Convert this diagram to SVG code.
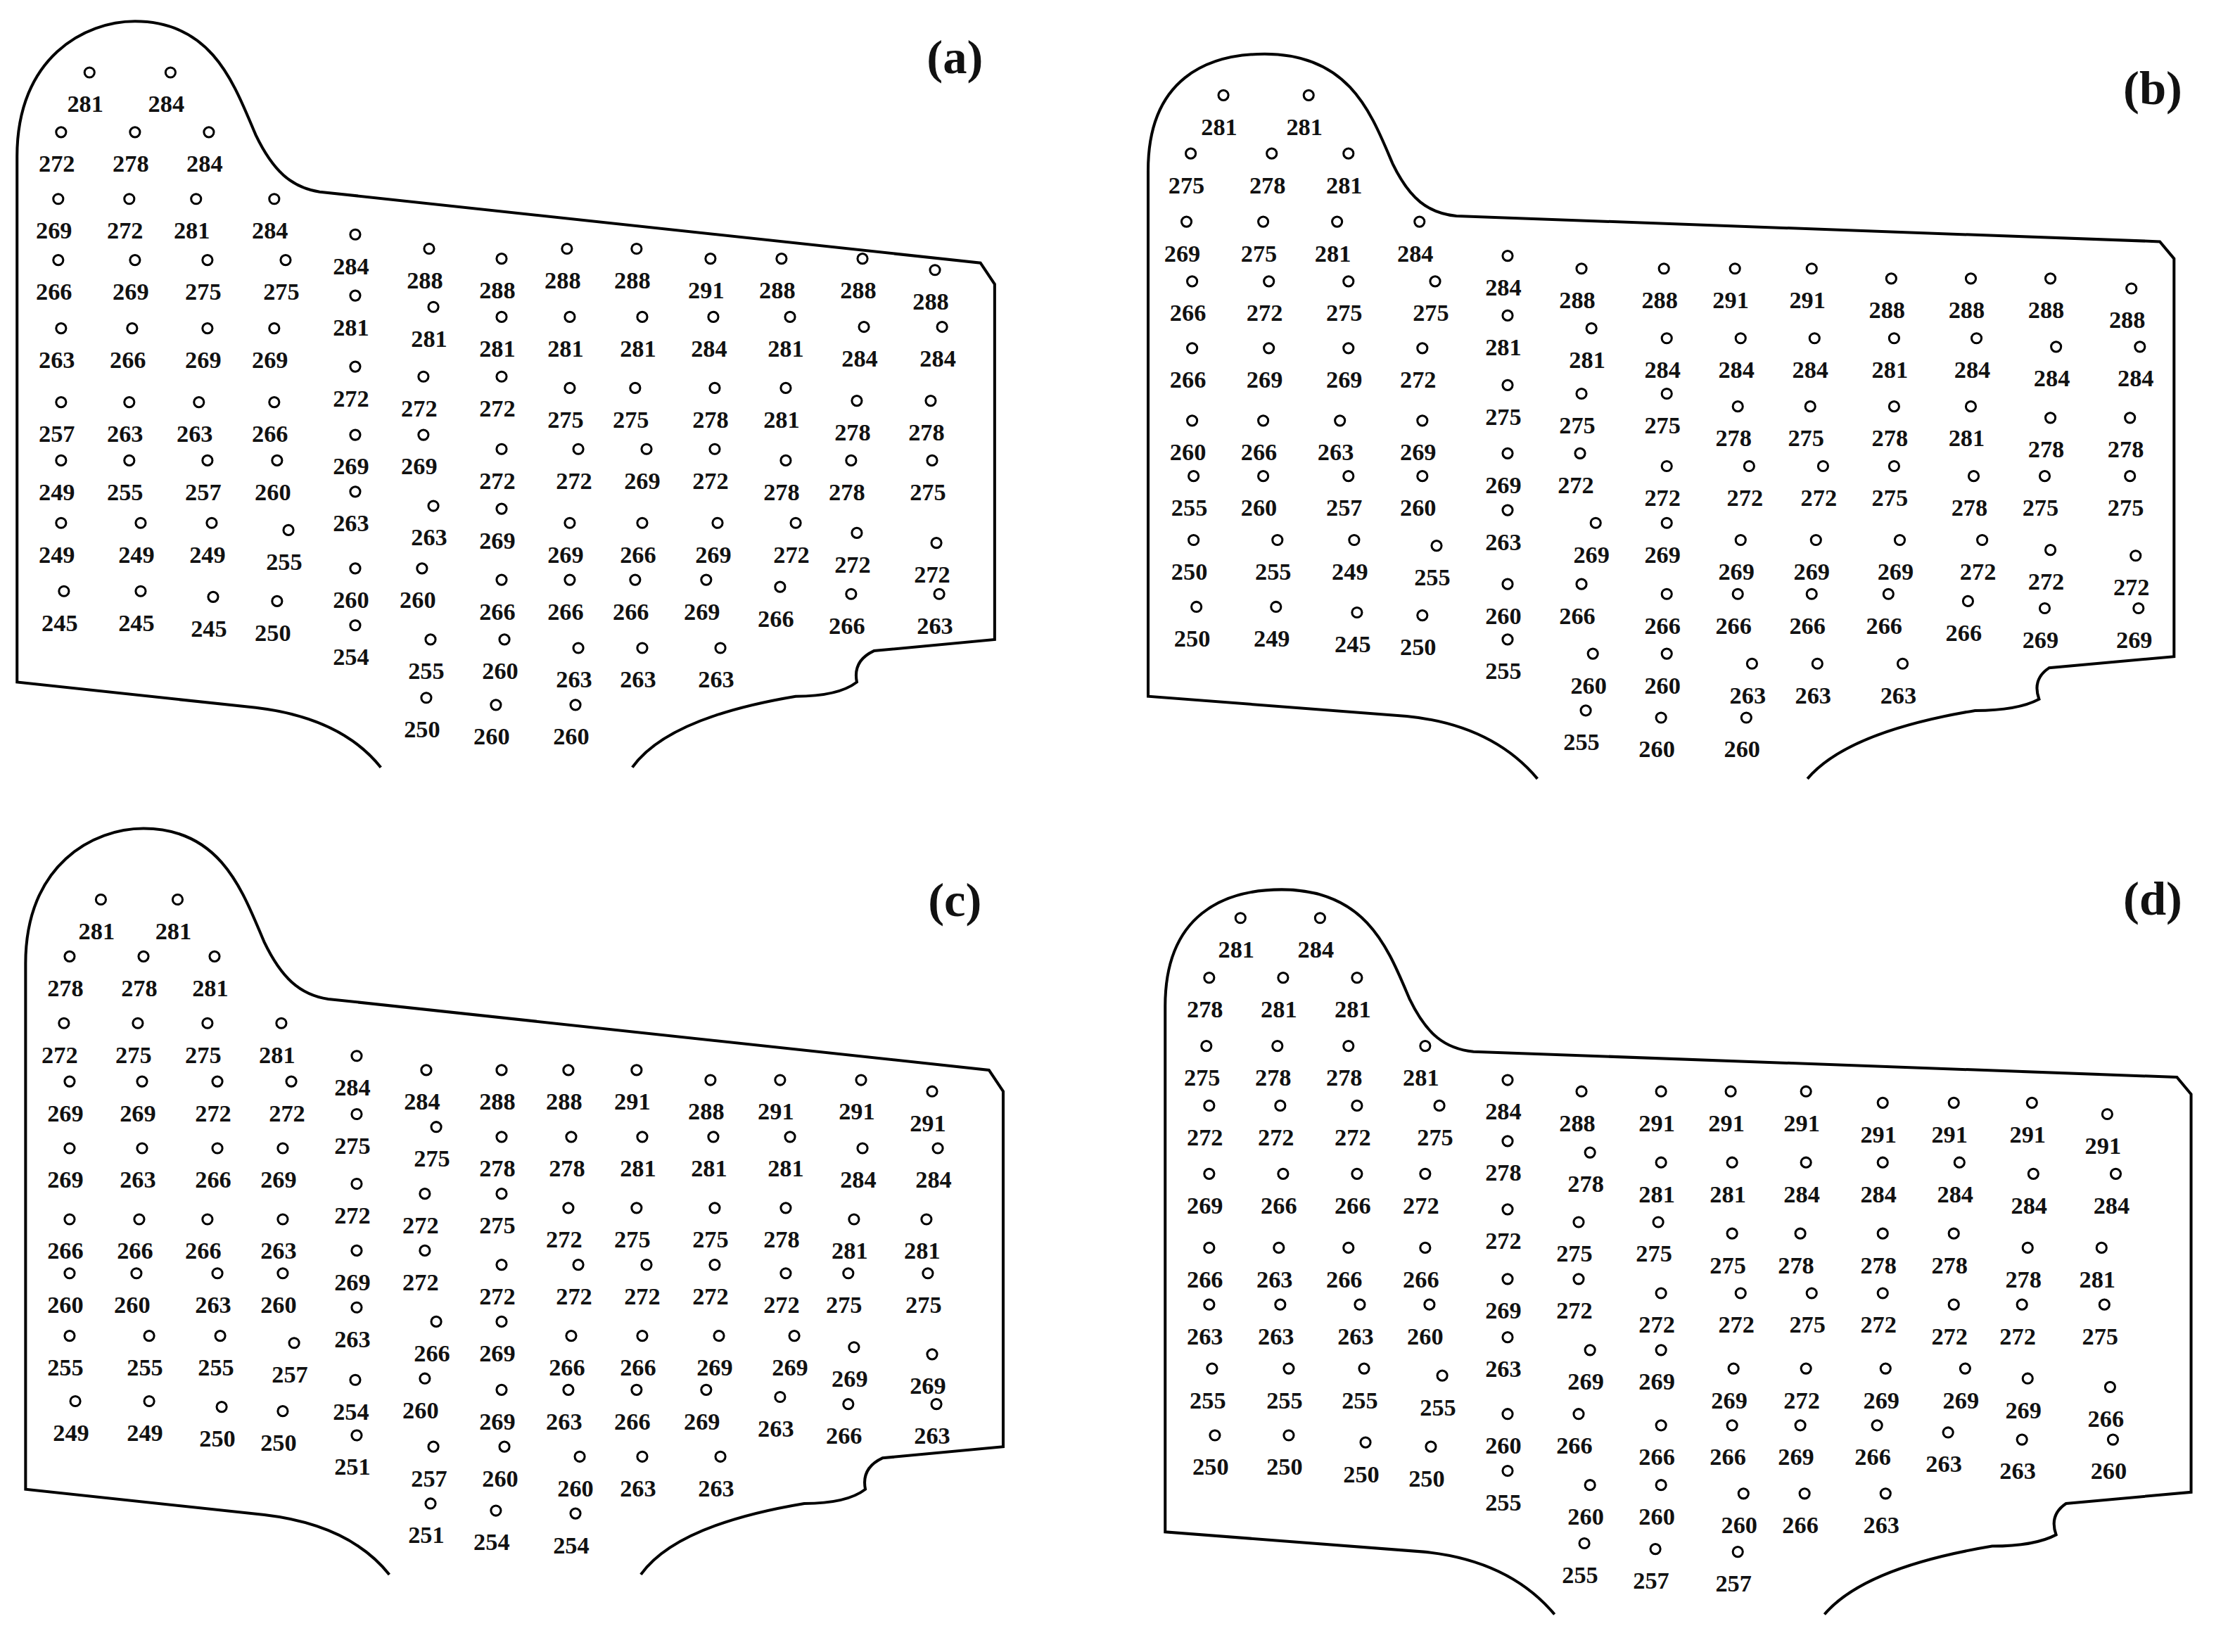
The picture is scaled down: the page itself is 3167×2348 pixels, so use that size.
<svg xmlns="http://www.w3.org/2000/svg" width="3167" height="2348" viewBox="0 0 3167 2348">
<style>
.o{fill:none;stroke:#000;stroke-width:2}
circle{fill:none;stroke:#000;stroke-width:1.5}
text{font-family:"Liberation Serif","DejaVu Serif",serif;font-size:17px;font-weight:bold;text-anchor:middle;dominant-baseline:central;fill:#111}
.lab{font-size:34px}
</style>
<defs><circle id="c" cx="3" cy="-22" r="3.5"/></defs>
<rect width="3167" height="2348" fill="#fff"/>
<g transform="scale(2.0198)">
<g id="outlines">
<path id="oa" class="o" d="M268,540 Q240,505 180,498 L12,480 L12,110 C12,40 60,15 95,15 C150,15 165,60 180,95 C192,120 205,132 225,135 L690,185 L700,200 L700,450 L615,458 Q600,465 603,480 Q590,490 560,490 Q470,505 445,540"/>
<path class="o" d="M268,540 Q240,505 180,498 L12,480 L12,110 C12,40 60,15 95,15 C150,15 165,60 180,95 C192,120 205,132 225,135 L690,185 L700,200 L700,450 L615,458 Q600,465 603,480 Q590,490 560,490 Q470,505 445,540" transform="translate(6,568)"/>
<path id="ob" class="o" d="M1082,548 Q1050,510 990,504 L808,490 L808,120 C808,55 850,38 890,38 C950,38 965,80 980,115 C992,140 1005,150 1025,152 L1520,170 L1530,182 L1530,462 L1442,470 Q1430,478 1435,492 Q1420,500 1390,500 Q1300,515 1272,548"/>
<path class="o" d="M1082,548 Q1050,510 990,504 L808,490 L808,120 C808,55 850,38 890,38 C950,38 965,80 980,115 C992,140 1005,150 1025,152 L1520,170 L1530,182 L1530,462 L1442,470 Q1430,478 1435,492 Q1420,500 1390,500 Q1300,515 1272,548" transform="translate(12,588)"/>
</g>
<text class="lab" x="672" y="40">(a)</text>
<text class="lab" x="1515" y="62">(b)</text>
<text class="lab" x="672" y="633">(c)</text>
<text class="lab" x="1515" y="632">(d)</text>

<g id="panel-a">
<g transform="translate(60,73)"><use href="#c"/><text>281</text></g>
<g transform="translate(117,73)"><use href="#c"/><text>284</text></g>
<g transform="translate(40,115)"><use href="#c"/><text>272</text></g>
<g transform="translate(92,115)"><use href="#c"/><text>278</text></g>
<g transform="translate(144,115)"><use href="#c"/><text>284</text></g>
<g transform="translate(38,162)"><use href="#c"/><text>269</text></g>
<g transform="translate(88,162)"><use href="#c"/><text>272</text></g>
<g transform="translate(135,162)"><use href="#c"/><text>281</text></g>
<g transform="translate(190,162)"><use href="#c"/><text>284</text></g>
<g transform="translate(38,205)"><use href="#c"/><text>266</text></g>
<g transform="translate(92,205)"><use href="#c"/><text>269</text></g>
<g transform="translate(143,205)"><use href="#c"/><text>275</text></g>
<g transform="translate(198,205)"><use href="#c"/><text>275</text></g>
<g transform="translate(40,253)"><use href="#c"/><text>263</text></g>
<g transform="translate(90,253)"><use href="#c"/><text>266</text></g>
<g transform="translate(143,253)"><use href="#c"/><text>269</text></g>
<g transform="translate(190,253)"><use href="#c"/><text>269</text></g>
<g transform="translate(40,305)"><use href="#c"/><text>257</text></g>
<g transform="translate(88,305)"><use href="#c"/><text>263</text></g>
<g transform="translate(137,305)"><use href="#c"/><text>263</text></g>
<g transform="translate(190,305)"><use href="#c"/><text>266</text></g>
<g transform="translate(40,346)"><use href="#c"/><text>249</text></g>
<g transform="translate(88,346)"><use href="#c"/><text>255</text></g>
<g transform="translate(143,346)"><use href="#c"/><text>257</text></g>
<g transform="translate(192,346)"><use href="#c"/><text>260</text></g>
<g transform="translate(40,390)"><use href="#c"/><text>249</text></g>
<g transform="translate(96,390)"><use href="#c"/><text>249</text></g>
<g transform="translate(146,390)"><use href="#c"/><text>249</text></g>
<g transform="translate(200,395)"><use href="#c"/><text>255</text></g>
<g transform="translate(42,438)"><use href="#c"/><text>245</text></g>
<g transform="translate(96,438)"><use href="#c"/><text>245</text></g>
<g transform="translate(147,442)"><use href="#c"/><text>245</text></g>
<g transform="translate(192,445)"><use href="#c"/><text>250</text></g>
<g transform="translate(247,187)"><use href="#c"/><text>284</text></g>
<g transform="translate(247,230)"><use href="#c"/><text>281</text></g>
<g transform="translate(247,280)"><use href="#c"/><text>272</text></g>
<g transform="translate(247,328)"><use href="#c"/><text>269</text></g>
<g transform="translate(247,368)"><use href="#c"/><text>263</text></g>
<g transform="translate(247,422)"><use href="#c"/><text>260</text></g>
<g transform="translate(247,462)"><use href="#c"/><text>254</text></g>
<g transform="translate(299,197)"><use href="#c"/><text>288</text></g>
<g transform="translate(302,238)"><use href="#c"/><text>281</text></g>
<g transform="translate(295,287)"><use href="#c"/><text>272</text></g>
<g transform="translate(295,328)"><use href="#c"/><text>269</text></g>
<g transform="translate(302,378)"><use href="#c"/><text>263</text></g>
<g transform="translate(294,422)"><use href="#c"/><text>260</text></g>
<g transform="translate(300,472)"><use href="#c"/><text>255</text></g>
<g transform="translate(297,513)"><use href="#c"/><text>250</text></g>
<g transform="translate(350,204)"><use href="#c"/><text>288</text></g>
<g transform="translate(350,245)"><use href="#c"/><text>281</text></g>
<g transform="translate(350,287)"><use href="#c"/><text>272</text></g>
<g transform="translate(350,338)"><use href="#c"/><text>272</text></g>
<g transform="translate(350,380)"><use href="#c"/><text>269</text></g>
<g transform="translate(350,430)"><use href="#c"/><text>266</text></g>
<g transform="translate(352,472)"><use href="#c"/><text>260</text></g>
<g transform="translate(346,518)"><use href="#c"/><text>260</text></g>
<g transform="translate(396,197)"><use href="#c"/><text>288</text></g>
<g transform="translate(398,245)"><use href="#c"/><text>281</text></g>
<g transform="translate(398,295)"><use href="#c"/><text>275</text></g>
<g transform="translate(404,338)"><use href="#c"/><text>272</text></g>
<g transform="translate(398,390)"><use href="#c"/><text>269</text></g>
<g transform="translate(398,430)"><use href="#c"/><text>266</text></g>
<g transform="translate(404,478)"><use href="#c"/><text>263</text></g>
<g transform="translate(402,518)"><use href="#c"/><text>260</text></g>
<g transform="translate(445,197)"><use href="#c"/><text>288</text></g>
<g transform="translate(449,245)"><use href="#c"/><text>281</text></g>
<g transform="translate(444,295)"><use href="#c"/><text>275</text></g>
<g transform="translate(452,338)"><use href="#c"/><text>269</text></g>
<g transform="translate(449,390)"><use href="#c"/><text>266</text></g>
<g transform="translate(444,430)"><use href="#c"/><text>266</text></g>
<g transform="translate(449,478)"><use href="#c"/><text>263</text></g>
<g transform="translate(497,204)"><use href="#c"/><text>291</text></g>
<g transform="translate(499,245)"><use href="#c"/><text>284</text></g>
<g transform="translate(500,295)"><use href="#c"/><text>278</text></g>
<g transform="translate(500,338)"><use href="#c"/><text>272</text></g>
<g transform="translate(502,390)"><use href="#c"/><text>269</text></g>
<g transform="translate(494,430)"><use href="#c"/><text>269</text></g>
<g transform="translate(504,478)"><use href="#c"/><text>263</text></g>
<g transform="translate(547,204)"><use href="#c"/><text>288</text></g>
<g transform="translate(553,245)"><use href="#c"/><text>281</text></g>
<g transform="translate(550,295)"><use href="#c"/><text>281</text></g>
<g transform="translate(550,346)"><use href="#c"/><text>278</text></g>
<g transform="translate(557,390)"><use href="#c"/><text>272</text></g>
<g transform="translate(546,435)"><use href="#c"/><text>266</text></g>
<g transform="translate(604,204)"><use href="#c"/><text>288</text></g>
<g transform="translate(605,252)"><use href="#c"/><text>284</text></g>
<g transform="translate(600,304)"><use href="#c"/><text>278</text></g>
<g transform="translate(596,346)"><use href="#c"/><text>278</text></g>
<g transform="translate(600,397)"><use href="#c"/><text>272</text></g>
<g transform="translate(596,440)"><use href="#c"/><text>266</text></g>
<g transform="translate(655,212)"><use href="#c"/><text>288</text></g>
<g transform="translate(660,252)"><use href="#c"/><text>284</text></g>
<g transform="translate(652,304)"><use href="#c"/><text>278</text></g>
<g transform="translate(653,346)"><use href="#c"/><text>275</text></g>
<g transform="translate(656,404)"><use href="#c"/><text>272</text></g>
<g transform="translate(658,440)"><use href="#c"/><text>263</text></g>
</g>

<g id="panel-b">
<g transform="translate(858,89)"><use href="#c"/><text>281</text></g>
<g transform="translate(918,89)"><use href="#c"/><text>281</text></g>
<g transform="translate(835,130)"><use href="#c"/><text>275</text></g>
<g transform="translate(892,130)"><use href="#c"/><text>278</text></g>
<g transform="translate(946,130)"><use href="#c"/><text>281</text></g>
<g transform="translate(832,178)"><use href="#c"/><text>269</text></g>
<g transform="translate(886,178)"><use href="#c"/><text>275</text></g>
<g transform="translate(938,178)"><use href="#c"/><text>281</text></g>
<g transform="translate(996,178)"><use href="#c"/><text>284</text></g>
<g transform="translate(836,220)"><use href="#c"/><text>266</text></g>
<g transform="translate(890,220)"><use href="#c"/><text>272</text></g>
<g transform="translate(946,220)"><use href="#c"/><text>275</text></g>
<g transform="translate(1007,220)"><use href="#c"/><text>275</text></g>
<g transform="translate(836,267)"><use href="#c"/><text>266</text></g>
<g transform="translate(890,267)"><use href="#c"/><text>269</text></g>
<g transform="translate(946,267)"><use href="#c"/><text>269</text></g>
<g transform="translate(998,267)"><use href="#c"/><text>272</text></g>
<g transform="translate(836,318)"><use href="#c"/><text>260</text></g>
<g transform="translate(886,318)"><use href="#c"/><text>266</text></g>
<g transform="translate(940,318)"><use href="#c"/><text>263</text></g>
<g transform="translate(998,318)"><use href="#c"/><text>269</text></g>
<g transform="translate(837,357)"><use href="#c"/><text>255</text></g>
<g transform="translate(886,357)"><use href="#c"/><text>260</text></g>
<g transform="translate(946,357)"><use href="#c"/><text>257</text></g>
<g transform="translate(998,357)"><use href="#c"/><text>260</text></g>
<g transform="translate(837,402)"><use href="#c"/><text>250</text></g>
<g transform="translate(896,402)"><use href="#c"/><text>255</text></g>
<g transform="translate(950,402)"><use href="#c"/><text>249</text></g>
<g transform="translate(1008,406)"><use href="#c"/><text>255</text></g>
<g transform="translate(839,449)"><use href="#c"/><text>250</text></g>
<g transform="translate(895,449)"><use href="#c"/><text>249</text></g>
<g transform="translate(952,453)"><use href="#c"/><text>245</text></g>
<g transform="translate(998,455)"><use href="#c"/><text>250</text></g>
<g transform="translate(1058,202)"><use href="#c"/><text>284</text></g>
<g transform="translate(1058,244)"><use href="#c"/><text>281</text></g>
<g transform="translate(1058,293)"><use href="#c"/><text>275</text></g>
<g transform="translate(1058,341)"><use href="#c"/><text>269</text></g>
<g transform="translate(1058,381)"><use href="#c"/><text>263</text></g>
<g transform="translate(1058,433)"><use href="#c"/><text>260</text></g>
<g transform="translate(1058,472)"><use href="#c"/><text>255</text></g>
<g transform="translate(1110,211)"><use href="#c"/><text>288</text></g>
<g transform="translate(1117,253)"><use href="#c"/><text>281</text></g>
<g transform="translate(1110,299)"><use href="#c"/><text>275</text></g>
<g transform="translate(1109,341)"><use href="#c"/><text>272</text></g>
<g transform="translate(1120,390)"><use href="#c"/><text>269</text></g>
<g transform="translate(1110,433)"><use href="#c"/><text>266</text></g>
<g transform="translate(1118,482)"><use href="#c"/><text>260</text></g>
<g transform="translate(1113,522)"><use href="#c"/><text>255</text></g>
<g transform="translate(1168,211)"><use href="#c"/><text>288</text></g>
<g transform="translate(1170,260)"><use href="#c"/><text>284</text></g>
<g transform="translate(1170,299)"><use href="#c"/><text>275</text></g>
<g transform="translate(1170,350)"><use href="#c"/><text>272</text></g>
<g transform="translate(1170,390)"><use href="#c"/><text>269</text></g>
<g transform="translate(1170,440)"><use href="#c"/><text>266</text></g>
<g transform="translate(1170,482)"><use href="#c"/><text>260</text></g>
<g transform="translate(1166,527)"><use href="#c"/><text>260</text></g>
<g transform="translate(1218,211)"><use href="#c"/><text>291</text></g>
<g transform="translate(1222,260)"><use href="#c"/><text>284</text></g>
<g transform="translate(1220,308)"><use href="#c"/><text>278</text></g>
<g transform="translate(1228,350)"><use href="#c"/><text>272</text></g>
<g transform="translate(1222,402)"><use href="#c"/><text>269</text></g>
<g transform="translate(1220,440)"><use href="#c"/><text>266</text></g>
<g transform="translate(1230,489)"><use href="#c"/><text>263</text></g>
<g transform="translate(1226,527)"><use href="#c"/><text>260</text></g>
<g transform="translate(1272,211)"><use href="#c"/><text>291</text></g>
<g transform="translate(1274,260)"><use href="#c"/><text>284</text></g>
<g transform="translate(1271,308)"><use href="#c"/><text>275</text></g>
<g transform="translate(1280,350)"><use href="#c"/><text>272</text></g>
<g transform="translate(1275,402)"><use href="#c"/><text>269</text></g>
<g transform="translate(1272,440)"><use href="#c"/><text>266</text></g>
<g transform="translate(1276,489)"><use href="#c"/><text>263</text></g>
<g transform="translate(1328,218)"><use href="#c"/><text>288</text></g>
<g transform="translate(1330,260)"><use href="#c"/><text>281</text></g>
<g transform="translate(1330,308)"><use href="#c"/><text>278</text></g>
<g transform="translate(1330,350)"><use href="#c"/><text>275</text></g>
<g transform="translate(1334,402)"><use href="#c"/><text>269</text></g>
<g transform="translate(1326,440)"><use href="#c"/><text>266</text></g>
<g transform="translate(1336,489)"><use href="#c"/><text>263</text></g>
<g transform="translate(1384,218)"><use href="#c"/><text>288</text></g>
<g transform="translate(1388,260)"><use href="#c"/><text>284</text></g>
<g transform="translate(1384,308)"><use href="#c"/><text>281</text></g>
<g transform="translate(1386,357)"><use href="#c"/><text>278</text></g>
<g transform="translate(1392,402)"><use href="#c"/><text>272</text></g>
<g transform="translate(1382,445)"><use href="#c"/><text>266</text></g>
<g transform="translate(1440,218)"><use href="#c"/><text>288</text></g>
<g transform="translate(1444,266)"><use href="#c"/><text>284</text></g>
<g transform="translate(1440,316)"><use href="#c"/><text>278</text></g>
<g transform="translate(1436,357)"><use href="#c"/><text>275</text></g>
<g transform="translate(1440,409)"><use href="#c"/><text>272</text></g>
<g transform="translate(1436,450)"><use href="#c"/><text>269</text></g>
<g transform="translate(1497,225)"><use href="#c"/><text>288</text></g>
<g transform="translate(1503,266)"><use href="#c"/><text>284</text></g>
<g transform="translate(1496,316)"><use href="#c"/><text>278</text></g>
<g transform="translate(1496,357)"><use href="#c"/><text>275</text></g>
<g transform="translate(1500,413)"><use href="#c"/><text>272</text></g>
<g transform="translate(1502,450)"><use href="#c"/><text>269</text></g>
</g>

<g id="panel-c">
<g transform="translate(68,655)"><use href="#c"/><text>281</text></g>
<g transform="translate(122,655)"><use href="#c"/><text>281</text></g>
<g transform="translate(46,695)"><use href="#c"/><text>278</text></g>
<g transform="translate(98,695)"><use href="#c"/><text>278</text></g>
<g transform="translate(148,695)"><use href="#c"/><text>281</text></g>
<g transform="translate(42,742)"><use href="#c"/><text>272</text></g>
<g transform="translate(94,742)"><use href="#c"/><text>275</text></g>
<g transform="translate(143,742)"><use href="#c"/><text>275</text></g>
<g transform="translate(195,742)"><use href="#c"/><text>281</text></g>
<g transform="translate(46,783)"><use href="#c"/><text>269</text></g>
<g transform="translate(97,783)"><use href="#c"/><text>269</text></g>
<g transform="translate(150,783)"><use href="#c"/><text>272</text></g>
<g transform="translate(202,783)"><use href="#c"/><text>272</text></g>
<g transform="translate(46,830)"><use href="#c"/><text>269</text></g>
<g transform="translate(97,830)"><use href="#c"/><text>263</text></g>
<g transform="translate(150,830)"><use href="#c"/><text>266</text></g>
<g transform="translate(196,830)"><use href="#c"/><text>269</text></g>
<g transform="translate(46,880)"><use href="#c"/><text>266</text></g>
<g transform="translate(95,880)"><use href="#c"/><text>266</text></g>
<g transform="translate(143,880)"><use href="#c"/><text>266</text></g>
<g transform="translate(196,880)"><use href="#c"/><text>263</text></g>
<g transform="translate(46,918)"><use href="#c"/><text>260</text></g>
<g transform="translate(93,918)"><use href="#c"/><text>260</text></g>
<g transform="translate(150,918)"><use href="#c"/><text>263</text></g>
<g transform="translate(196,918)"><use href="#c"/><text>260</text></g>
<g transform="translate(46,962)"><use href="#c"/><text>255</text></g>
<g transform="translate(102,962)"><use href="#c"/><text>255</text></g>
<g transform="translate(152,962)"><use href="#c"/><text>255</text></g>
<g transform="translate(204,967)"><use href="#c"/><text>257</text></g>
<g transform="translate(50,1008)"><use href="#c"/><text>249</text></g>
<g transform="translate(102,1008)"><use href="#c"/><text>249</text></g>
<g transform="translate(153,1012)"><use href="#c"/><text>250</text></g>
<g transform="translate(196,1015)"><use href="#c"/><text>250</text></g>
<g transform="translate(248,765)"><use href="#c"/><text>284</text></g>
<g transform="translate(248,806)"><use href="#c"/><text>275</text></g>
<g transform="translate(248,855)"><use href="#c"/><text>272</text></g>
<g transform="translate(248,902)"><use href="#c"/><text>269</text></g>
<g transform="translate(248,942)"><use href="#c"/><text>263</text></g>
<g transform="translate(247,993)"><use href="#c"/><text>254</text></g>
<g transform="translate(248,1032)"><use href="#c"/><text>251</text></g>
<g transform="translate(297,775)"><use href="#c"/><text>284</text></g>
<g transform="translate(304,815)"><use href="#c"/><text>275</text></g>
<g transform="translate(296,862)"><use href="#c"/><text>272</text></g>
<g transform="translate(296,902)"><use href="#c"/><text>272</text></g>
<g transform="translate(304,952)"><use href="#c"/><text>266</text></g>
<g transform="translate(296,992)"><use href="#c"/><text>260</text></g>
<g transform="translate(302,1040)"><use href="#c"/><text>257</text></g>
<g transform="translate(300,1080)"><use href="#c"/><text>251</text></g>
<g transform="translate(350,775)"><use href="#c"/><text>288</text></g>
<g transform="translate(350,822)"><use href="#c"/><text>278</text></g>
<g transform="translate(350,862)"><use href="#c"/><text>275</text></g>
<g transform="translate(350,912)"><use href="#c"/><text>272</text></g>
<g transform="translate(350,952)"><use href="#c"/><text>269</text></g>
<g transform="translate(350,1000)"><use href="#c"/><text>269</text></g>
<g transform="translate(352,1040)"><use href="#c"/><text>260</text></g>
<g transform="translate(346,1085)"><use href="#c"/><text>254</text></g>
<g transform="translate(397,775)"><use href="#c"/><text>288</text></g>
<g transform="translate(399,822)"><use href="#c"/><text>278</text></g>
<g transform="translate(397,872)"><use href="#c"/><text>272</text></g>
<g transform="translate(404,912)"><use href="#c"/><text>272</text></g>
<g transform="translate(399,962)"><use href="#c"/><text>266</text></g>
<g transform="translate(397,1000)"><use href="#c"/><text>263</text></g>
<g transform="translate(405,1047)"><use href="#c"/><text>260</text></g>
<g transform="translate(402,1087)"><use href="#c"/><text>254</text></g>
<g transform="translate(445,775)"><use href="#c"/><text>291</text></g>
<g transform="translate(449,822)"><use href="#c"/><text>281</text></g>
<g transform="translate(445,872)"><use href="#c"/><text>275</text></g>
<g transform="translate(452,912)"><use href="#c"/><text>272</text></g>
<g transform="translate(449,962)"><use href="#c"/><text>266</text></g>
<g transform="translate(445,1000)"><use href="#c"/><text>266</text></g>
<g transform="translate(449,1047)"><use href="#c"/><text>263</text></g>
<g transform="translate(497,782)"><use href="#c"/><text>288</text></g>
<g transform="translate(499,822)"><use href="#c"/><text>281</text></g>
<g transform="translate(500,872)"><use href="#c"/><text>275</text></g>
<g transform="translate(500,912)"><use href="#c"/><text>272</text></g>
<g transform="translate(503,962)"><use href="#c"/><text>269</text></g>
<g transform="translate(494,1000)"><use href="#c"/><text>269</text></g>
<g transform="translate(504,1047)"><use href="#c"/><text>263</text></g>
<g transform="translate(546,782)"><use href="#c"/><text>291</text></g>
<g transform="translate(553,822)"><use href="#c"/><text>281</text></g>
<g transform="translate(550,872)"><use href="#c"/><text>278</text></g>
<g transform="translate(550,918)"><use href="#c"/><text>272</text></g>
<g transform="translate(556,962)"><use href="#c"/><text>269</text></g>
<g transform="translate(546,1005)"><use href="#c"/><text>263</text></g>
<g transform="translate(603,782)"><use href="#c"/><text>291</text></g>
<g transform="translate(604,830)"><use href="#c"/><text>284</text></g>
<g transform="translate(598,880)"><use href="#c"/><text>281</text></g>
<g transform="translate(594,918)"><use href="#c"/><text>275</text></g>
<g transform="translate(598,970)"><use href="#c"/><text>269</text></g>
<g transform="translate(594,1010)"><use href="#c"/><text>266</text></g>
<g transform="translate(653,790)"><use href="#c"/><text>291</text></g>
<g transform="translate(657,830)"><use href="#c"/><text>284</text></g>
<g transform="translate(649,880)"><use href="#c"/><text>281</text></g>
<g transform="translate(650,918)"><use href="#c"/><text>275</text></g>
<g transform="translate(653,975)"><use href="#c"/><text>269</text></g>
<g transform="translate(656,1010)"><use href="#c"/><text>263</text></g>
</g>

<g id="panel-d">
<g transform="translate(870,668)"><use href="#c"/><text>281</text></g>
<g transform="translate(926,668)"><use href="#c"/><text>284</text></g>
<g transform="translate(848,710)"><use href="#c"/><text>278</text></g>
<g transform="translate(900,710)"><use href="#c"/><text>281</text></g>
<g transform="translate(952,710)"><use href="#c"/><text>281</text></g>
<g transform="translate(846,758)"><use href="#c"/><text>275</text></g>
<g transform="translate(896,758)"><use href="#c"/><text>278</text></g>
<g transform="translate(946,758)"><use href="#c"/><text>278</text></g>
<g transform="translate(1000,758)"><use href="#c"/><text>281</text></g>
<g transform="translate(848,800)"><use href="#c"/><text>272</text></g>
<g transform="translate(898,800)"><use href="#c"/><text>272</text></g>
<g transform="translate(952,800)"><use href="#c"/><text>272</text></g>
<g transform="translate(1010,800)"><use href="#c"/><text>275</text></g>
<g transform="translate(848,848)"><use href="#c"/><text>269</text></g>
<g transform="translate(900,848)"><use href="#c"/><text>266</text></g>
<g transform="translate(952,848)"><use href="#c"/><text>266</text></g>
<g transform="translate(1000,848)"><use href="#c"/><text>272</text></g>
<g transform="translate(848,900)"><use href="#c"/><text>266</text></g>
<g transform="translate(897,900)"><use href="#c"/><text>263</text></g>
<g transform="translate(946,900)"><use href="#c"/><text>266</text></g>
<g transform="translate(1000,900)"><use href="#c"/><text>266</text></g>
<g transform="translate(848,940)"><use href="#c"/><text>263</text></g>
<g transform="translate(898,940)"><use href="#c"/><text>263</text></g>
<g transform="translate(954,940)"><use href="#c"/><text>263</text></g>
<g transform="translate(1003,940)"><use href="#c"/><text>260</text></g>
<g transform="translate(850,985)"><use href="#c"/><text>255</text></g>
<g transform="translate(904,985)"><use href="#c"/><text>255</text></g>
<g transform="translate(957,985)"><use href="#c"/><text>255</text></g>
<g transform="translate(1012,990)"><use href="#c"/><text>255</text></g>
<g transform="translate(852,1032)"><use href="#c"/><text>250</text></g>
<g transform="translate(904,1032)"><use href="#c"/><text>250</text></g>
<g transform="translate(958,1037)"><use href="#c"/><text>250</text></g>
<g transform="translate(1004,1040)"><use href="#c"/><text>250</text></g>
<g transform="translate(1058,782)"><use href="#c"/><text>284</text></g>
<g transform="translate(1058,825)"><use href="#c"/><text>278</text></g>
<g transform="translate(1058,873)"><use href="#c"/><text>272</text></g>
<g transform="translate(1058,922)"><use href="#c"/><text>269</text></g>
<g transform="translate(1058,963)"><use href="#c"/><text>263</text></g>
<g transform="translate(1058,1017)"><use href="#c"/><text>260</text></g>
<g transform="translate(1058,1057)"><use href="#c"/><text>255</text></g>
<g transform="translate(1110,790)"><use href="#c"/><text>288</text></g>
<g transform="translate(1116,833)"><use href="#c"/><text>278</text></g>
<g transform="translate(1108,882)"><use href="#c"/><text>275</text></g>
<g transform="translate(1108,922)"><use href="#c"/><text>272</text></g>
<g transform="translate(1116,972)"><use href="#c"/><text>269</text></g>
<g transform="translate(1108,1017)"><use href="#c"/><text>266</text></g>
<g transform="translate(1116,1067)"><use href="#c"/><text>260</text></g>
<g transform="translate(1112,1108)"><use href="#c"/><text>255</text></g>
<g transform="translate(1166,790)"><use href="#c"/><text>291</text></g>
<g transform="translate(1166,840)"><use href="#c"/><text>281</text></g>
<g transform="translate(1164,882)"><use href="#c"/><text>275</text></g>
<g transform="translate(1166,932)"><use href="#c"/><text>272</text></g>
<g transform="translate(1166,972)"><use href="#c"/><text>269</text></g>
<g transform="translate(1166,1025)"><use href="#c"/><text>266</text></g>
<g transform="translate(1166,1067)"><use href="#c"/><text>260</text></g>
<g transform="translate(1162,1112)"><use href="#c"/><text>257</text></g>
<g transform="translate(1215,790)"><use href="#c"/><text>291</text></g>
<g transform="translate(1216,840)"><use href="#c"/><text>281</text></g>
<g transform="translate(1216,890)"><use href="#c"/><text>275</text></g>
<g transform="translate(1222,932)"><use href="#c"/><text>272</text></g>
<g transform="translate(1217,985)"><use href="#c"/><text>269</text></g>
<g transform="translate(1216,1025)"><use href="#c"/><text>266</text></g>
<g transform="translate(1224,1073)"><use href="#c"/><text>260</text></g>
<g transform="translate(1220,1114)"><use href="#c"/><text>257</text></g>
<g transform="translate(1268,790)"><use href="#c"/><text>291</text></g>
<g transform="translate(1268,840)"><use href="#c"/><text>284</text></g>
<g transform="translate(1264,890)"><use href="#c"/><text>278</text></g>
<g transform="translate(1272,932)"><use href="#c"/><text>275</text></g>
<g transform="translate(1268,985)"><use href="#c"/><text>272</text></g>
<g transform="translate(1264,1025)"><use href="#c"/><text>269</text></g>
<g transform="translate(1267,1073)"><use href="#c"/><text>266</text></g>
<g transform="translate(1322,798)"><use href="#c"/><text>291</text></g>
<g transform="translate(1322,840)"><use href="#c"/><text>284</text></g>
<g transform="translate(1322,890)"><use href="#c"/><text>278</text></g>
<g transform="translate(1322,932)"><use href="#c"/><text>272</text></g>
<g transform="translate(1324,985)"><use href="#c"/><text>269</text></g>
<g transform="translate(1318,1025)"><use href="#c"/><text>266</text></g>
<g transform="translate(1324,1073)"><use href="#c"/><text>263</text></g>
<g transform="translate(1372,798)"><use href="#c"/><text>291</text></g>
<g transform="translate(1376,840)"><use href="#c"/><text>284</text></g>
<g transform="translate(1372,890)"><use href="#c"/><text>278</text></g>
<g transform="translate(1372,940)"><use href="#c"/><text>272</text></g>
<g transform="translate(1380,985)"><use href="#c"/><text>269</text></g>
<g transform="translate(1368,1030)"><use href="#c"/><text>263</text></g>
<g transform="translate(1427,798)"><use href="#c"/><text>291</text></g>
<g transform="translate(1428,848)"><use href="#c"/><text>284</text></g>
<g transform="translate(1424,900)"><use href="#c"/><text>278</text></g>
<g transform="translate(1420,940)"><use href="#c"/><text>272</text></g>
<g transform="translate(1424,992)"><use href="#c"/><text>269</text></g>
<g transform="translate(1420,1035)"><use href="#c"/><text>263</text></g>
<g transform="translate(1480,806)"><use href="#c"/><text>291</text></g>
<g transform="translate(1486,848)"><use href="#c"/><text>284</text></g>
<g transform="translate(1476,900)"><use href="#c"/><text>281</text></g>
<g transform="translate(1478,940)"><use href="#c"/><text>275</text></g>
<g transform="translate(1482,998)"><use href="#c"/><text>266</text></g>
<g transform="translate(1484,1035)"><use href="#c"/><text>260</text></g>
</g>
</g>
</svg>
